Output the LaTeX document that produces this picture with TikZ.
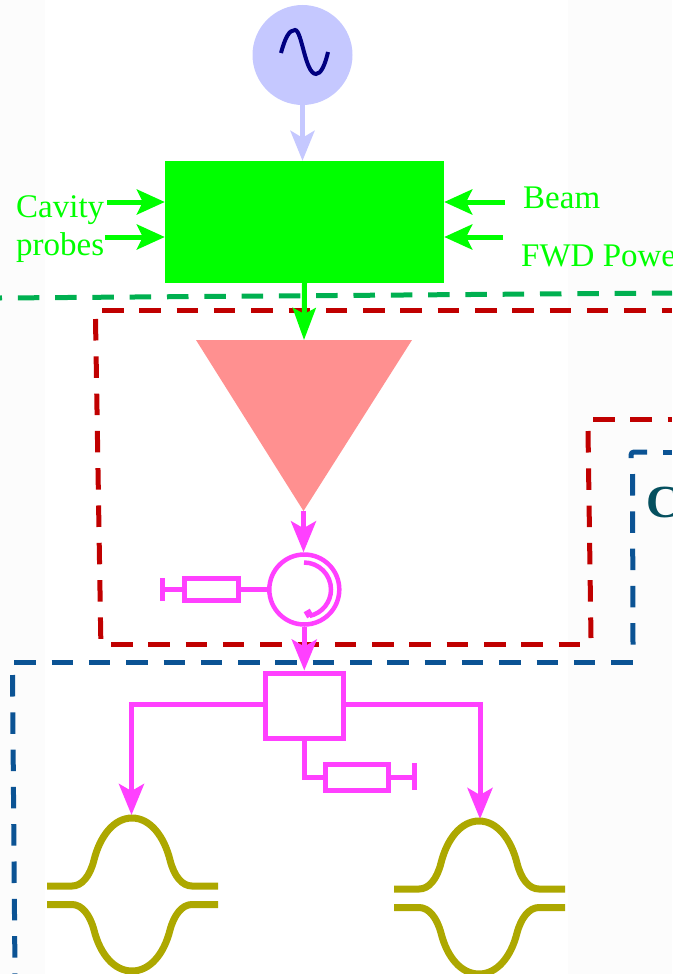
\documentclass[tikz,border=0pt]{standalone}
\usepackage{fontspec}
\setmainfont{Liberation Serif}
\usetikzlibrary{arrows.meta,shapes.geometric}
\definecolor{srcblue}{HTML}{C5C8FF}
\definecolor{sinenavy}{HTML}{000080}
\definecolor{ctrlgreen}{HTML}{00FF00}
\definecolor{dashgreen}{HTML}{00B050}
\definecolor{dashred}{HTML}{C00000}
\definecolor{dashblue}{HTML}{0B5394}
\definecolor{ampred}{HTML}{FF9090}
\definecolor{rfpink}{HTML}{FF40FF}
\definecolor{cavolive}{HTML}{ADA800}
\definecolor{tealtext}{HTML}{05505F}
\definecolor{paper}{HTML}{FCFCFC}
\tikzset{
  x=1pt,y=-1pt,
  dashline/.style={line width=5pt,dash pattern=on 21.5pt off 15.8pt},
  srcarrow/.style={draw=srcblue,line width=5pt,-{Stealth[length=30pt,width=24pt,inset=7pt,fill=srcblue]}},
  ctrlarrow/.style={draw=ctrlgreen,line width=5pt,-{Stealth[length=28pt,width=25pt,inset=6pt,fill=ctrlgreen]}},
  rfarrow/.style={draw=rfpink,line width=5pt,-{Stealth[length=31pt,width=25pt,inset=7pt,fill=rfpink]}},
  rfline/.style={draw=rfpink,line width=5pt},
  rfbox/.style={rectangle,draw=rfpink,line width=5pt,fill=white,inner sep=0pt},
  cavline/.style={draw=cavolive,line width=7pt},
  greenlabel/.style={text=ctrlgreen,anchor=base west,inner sep=0pt,font=\fontsize{33}{40}\selectfont},
}
\begin{document}
\begin{tikzpicture}
\useasboundingbox (0,0) rectangle (672,974);
\clip (0,0) rectangle (672,974);
\fill[paper] (0,0) rectangle (45,974);
\fill[paper] (568,0) rectangle (672,974);

% nodes
\node[circle,fill=srcblue,minimum size=100pt,inner sep=0pt] (src) at (302.5,55) {};
\node[rectangle,fill=ctrlgreen,minimum width=279pt,minimum height=122pt,inner sep=0pt] (ctrl) at (304.5,222) {};
\draw[sinenavy,line width=4pt,line cap=butt] (281,53) .. controls (285,38) and (289,30) .. (295,30)
  .. controls (302,30) and (305,74) .. (316,74) .. controls (321,74) and (325,65) .. (328,52);

% green boundary
\draw[dashgreen,dashline,dash phase=19.5pt] (0,298) -- (672,293);
% red enclosure
\draw[dashred,dashline] (102,310) -- (672,310);
\draw[dashred,dashline] (95.5,319) -- (100.8,639);
\draw[dashred,dashline] (111,644) -- (581,644);
\draw[dashred,dashline] (588,431) -- (591,638);
\draw[dashred,dashline] (593,419) -- (672,419);
% blue enclosure
\draw[dashblue,line width=5pt,rounded corners=3pt] (631,458) -- (631,452) -- (647,452);
\draw[dashblue,dashline] (663,452) -- (672,452);
\draw[dashblue,dashline] (632.5,474) -- (633,645);
\draw[dashblue,dashline] (14.3,662) -- (634,662);
\draw[dashblue,dashline] (12.5,675) -- (15,974);

% amplifier
\node[inner sep=0pt] (ampTop) at (304,340) {};
\coordinate (ampL) at (196,340);
\coordinate (ampR) at (412,340);
\coordinate (ampTip) at (303.5,511);
\fill[ampred] (ampL) -- (ampR) -- (ampTip) -- cycle;

% control inputs
\coordinate (in1) at (107,202);
\coordinate (in2) at (105,237);
\coordinate (in3) at (505,202);
\coordinate (in4) at (503,237);
\draw[ctrlarrow] (in1) -- (in1 -| ctrl.west);
\draw[ctrlarrow] (in2) -- (in2 -| ctrl.west);
\draw[ctrlarrow] (in3) -- (in3 -| ctrl.east);
\draw[ctrlarrow] (in4) -- (in4 -| ctrl.east);
\node[greenlabel] (lbA) at (16,217) {Cavity};
\node[greenlabel] (lbB) at (16,255) {probes};
\node[greenlabel] (lbC) at (523,208) {Beam};
\node[greenlabel] (lbD) at (521,266) {FWD Power};
\node[anchor=base west,inner sep=0pt,text=tealtext,font=\fontsize{46}{54}\selectfont\bfseries] (lbE) at (646,517) {C};

% top arrows
\draw[srcarrow] (src.south) -- (src.south |- ctrl.north);
\draw[ctrlarrow,-{Stealth[length=32pt,width=23pt,inset=6pt,fill=ctrlgreen]}] (ctrl.south) -- (ampTop.center);

% circulator
\node[circle,draw=rfpink,line width=4.5pt,fill=white,minimum size=70pt,inner sep=0pt] (circ) at (304.3,589.5) {};
\draw[rfline,line width=4.5pt] (304,562.5) arc[start angle=-90,end angle=78,radius=27];
\fill[rfpink,rotate around={30:(308.5,613.5)}] (305,610) rectangle (312,617);
\draw[rfarrow] (ampTip) -- (ampTip |- circ.north);

% load on circulator
\node[rfbox,minimum width=54pt,minimum height=22pt] (loadA) at (211,589) {};
\coordinate (gndA) at (162,589);
\draw[rfline] (loadA.east) -- (circ.west |- loadA.east);
\draw[rfline] (loadA.west) -- (gndA);
\draw[rfline] (162,578) -- (162,601);

% coupler
\node[rfbox,minimum width=78pt,minimum height=65pt] (coup) at (304,705.5) {};
\draw[rfarrow] (circ.south) -- (circ.south |- coup.north);

% load on coupler
\node[rfbox,minimum width=63pt,minimum height=26pt] (loadB) at (356.5,777) {};
\coordinate (gndB) at (414,777);
\draw[rfline] (coup.south) |- (loadB.west);
\draw[rfline] (loadB.east) -- (gndB);
\draw[rfline] (414,763) -- (414,790);

% cavities
\coordinate (cavA) at (131.5,815);
\coordinate (cavB) at (480,819);
\draw[rfarrow] (coup.west |- 0,704) -| (cavA);
\draw[rfarrow] (coup.east |- 0,704) -| (cavB);

\foreach \cx/\dy in {132/0,479/3}{
\begin{scope}[shift={(\cx,\dy)}]
\draw[cavline] (-85,886) -- (-60,886) .. controls (-50,886) and (-42,876) .. (-38,860)
  .. controls (-32,836) and (-18,818) .. (0,818) .. controls (18,818) and (32,836) .. (38,860)
  .. controls (42,876) and (50,886) .. (60,886) -- (86,886);
\draw[cavline] (-85,904.5) -- (-60,904.5) .. controls (-50,904.5) and (-42,915) .. (-38,930)
  .. controls (-32,954) and (-18,971) .. (0,971) .. controls (18,971) and (32,954) .. (38,930)
  .. controls (42,915) and (50,904.5) .. (60,904.5) -- (86,904.5);
\end{scope}}
\end{tikzpicture}
\end{document}
